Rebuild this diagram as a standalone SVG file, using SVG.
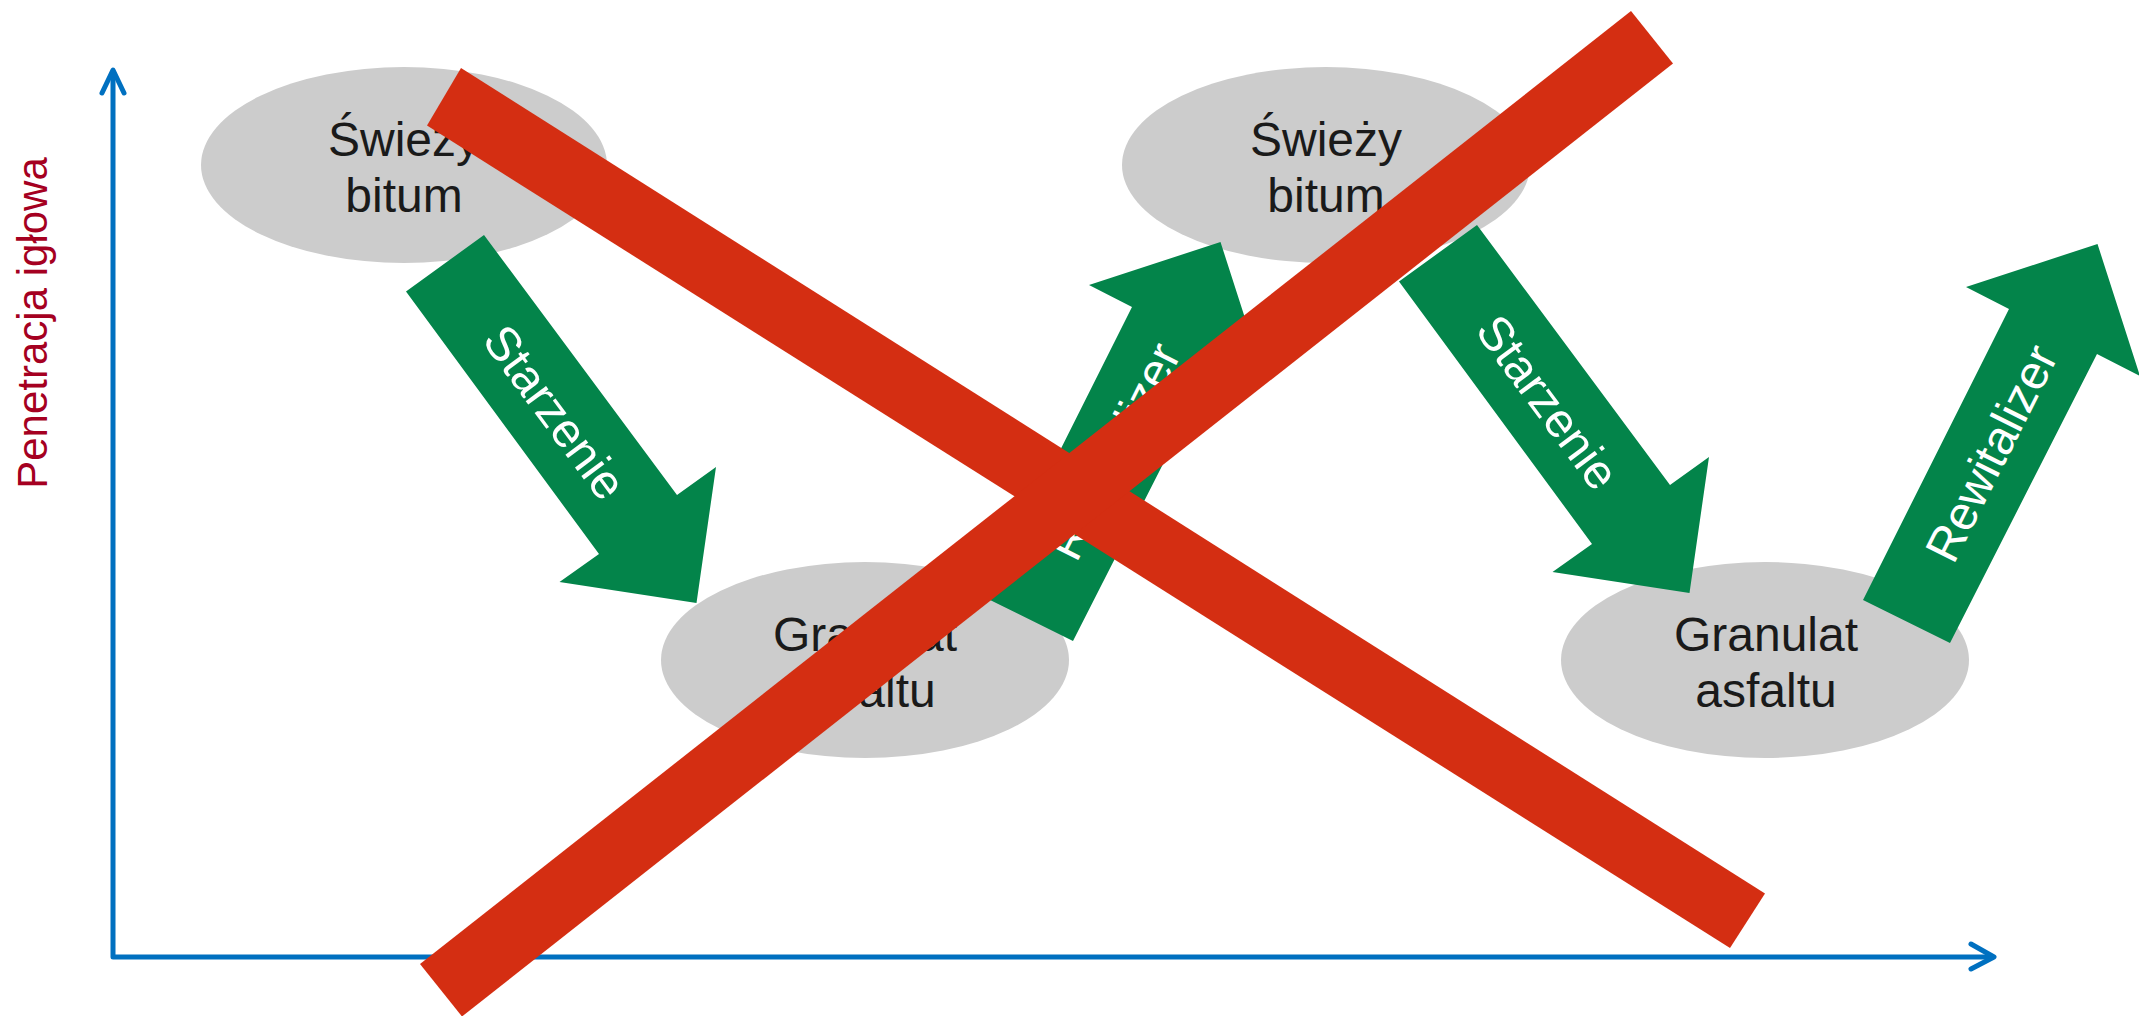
<svg xmlns="http://www.w3.org/2000/svg" width="2139" height="1016" viewBox="0 0 2139 1016">
<style>
.axis{fill:none;stroke:#0070C0;stroke-width:5;stroke-linecap:round;stroke-linejoin:round}
.node{fill:#CCCCCC}
.ntext{font-family:"Liberation Sans",Arial,sans-serif;font-size:48px;fill:#1A1A1A;text-anchor:middle}
.arrow{fill:#03844A}
.atext{font-family:"Liberation Sans",Arial,sans-serif;font-size:48px;fill:#FFFFFF;text-anchor:middle}
.cross{fill:#D42E12}
.ylabel{font-family:"Liberation Sans",Arial,sans-serif;font-size:42px;fill:#A50021;text-anchor:middle}
</style>
<rect width="2139" height="1016" fill="#FFFFFF"/>
<g id="axes">
<path class="axis" style="stroke-linecap:butt" d="M113,72 V957 H1990"/>
<path class="axis" d="M102,93 L113,70 L124,93"/>
<path class="axis" d="M1971,944 L1994,957 L1971,969"/>
<text class="ylabel" transform="translate(47,323) rotate(-90)">Penetracja igłowa</text>
</g>
<g id="node-swiezy-bitum-1">
<ellipse class="node" cx="404" cy="165" rx="203" ry="98"/>
<text class="ntext" x="404" y="156">Świeży</text>
<text class="ntext" x="404" y="212">bitum</text>
</g>
<g id="node-granulat-1">
<ellipse class="node" cx="865" cy="660" rx="204" ry="98"/>
<text class="ntext" x="865" y="651">Granulat</text>
<text class="ntext" x="865" y="707">asfaltu</text>
</g>
<g id="node-swiezy-bitum-2">
<ellipse class="node" cx="1326" cy="165" rx="204" ry="98"/>
<text class="ntext" x="1326" y="156">Świeży</text>
<text class="ntext" x="1326" y="212">bitum</text>
</g>
<g id="node-granulat-2">
<ellipse class="node" cx="1765" cy="660" rx="204" ry="98"/>
<text class="ntext" x="1766" y="651">Granulat</text>
<text class="ntext" x="1766" y="707">asfaltu</text>
</g>
<g id="connectors">
<g id="arrow-starzenie-1">
<polygon class="arrow" points="406,291.5 484,235 677,495 716,467 696.5,603 559.5,582 599,554"/>
<text class="atext" transform="translate(555,412) rotate(53.4)" dy="17">Starzenie</text>
</g>
<g id="arrow-rewitalizer-1">
<polygon class="arrow" points="986,598 1132,307 1089,285 1220.5,242 1263,374 1220,352 1073,641"/>
<text class="atext" transform="translate(1114,451) rotate(-63.35)" dy="17">Rewitalizer</text>
</g>
<g id="arrow-starzenie-2">
<polygon class="arrow" points="1399,281.5 1477,225 1670,485 1709,457 1689.5,593 1552.5,572 1592,544"/>
<text class="atext" transform="translate(1548,402) rotate(53.4)" dy="17">Starzenie</text>
</g>
<g id="arrow-rewitalizer-2">
<polygon class="arrow" points="1863,600 2009,309 1966,287 2097.5,244 2140,376 2097,354 1950,643"/>
<text class="atext" transform="translate(1991,453) rotate(-63.35)" dy="17">Rewitalizer</text>
</g>
</g>
<g id="cross">
<polygon class="cross" points="461,68 1765,893.5 1730,948 427,125.5"/>
<polygon class="cross" points="420,964 1631,11 1673,63.5 462,1016.5"/>
</g>
</svg>
